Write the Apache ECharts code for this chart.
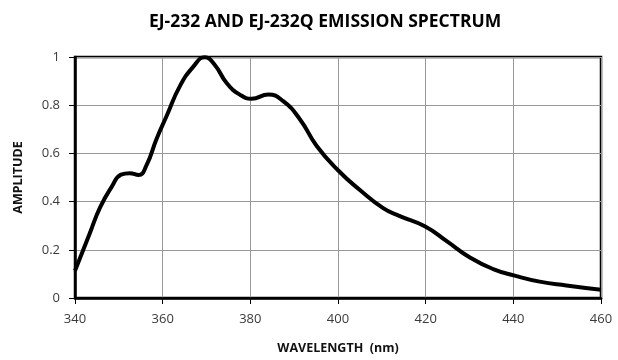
<!DOCTYPE html>
<html>
<head>
<meta charset="utf-8">
<script src="https://cdn.jsdelivr.net/npm/echarts@6/dist/echarts.min.js"></script>
<style>
  html, body { margin: 0; padding: 0; background: #fff; }
  #chart { width: 618px; height: 360px; }
</style>
</head>
<body>
<div id="chart"></div>
<script>
// wavelength (nm) and relative amplitude
const wavelength = [340, 343.4, 345.7, 348.4, 350.5, 352.5, 354.5, 356.3, 358.6, 360.9, 363.9, 367, 369.6,
  371.9, 374.6, 377.6, 380.3, 384.1, 387.5, 391.3, 395.1, 400, 405, 410.3, 414.1,
  419.8, 424.8, 430.1, 435.4, 440.3, 446, 452.1, 460];
const amplitude = [0.113, 0.27, 0.375, 0.462, 0.512, 0.518, 0.51, 0.55, 0.66, 0.755, 0.878, 0.96, 0.999,
  0.967, 0.892, 0.844, 0.827, 0.844, 0.817, 0.742, 0.632, 0.53, 0.448, 0.373, 0.34,
  0.298, 0.236, 0.168, 0.12, 0.093, 0.068, 0.052, 0.034];

const xTicks = [340, 360, 380, 400, 420, 440, 460];
const yTicks = [0, 0.2, 0.4, 0.6, 0.8, 1];

const points = wavelength.map((w, i) => [w, amplitude[i]]);

const chart = echarts.init(document.getElementById('chart'));

const labelFont = { color: '#3a3a3a', fontFamily: 'Open Sans', fontSize: 13 };

chart.setOption({
  animation: false,
  title: {
    text: 'EJ-232 AND EJ-232Q EMISSION SPECTRUM',
    left: 144,
    top: 8,
    textStyle: { fontFamily: 'Open Sans', fontWeight: 'bold', fontSize: 17.5, color: '#000' }
  },
  grid: {
    left: 75, right: 17, top: 57, bottom: 59,
    show: true, borderColor: '#000', borderWidth: 2.5, backgroundColor: 'transparent'
  },
  xAxis: {
    type: 'value',
    min: xTicks[0], max: xTicks[xTicks.length - 1], interval: 20,
    name: 'WAVELENGTH  (nm)',
    nameLocation: 'middle',
    nameGap: 44,
    nameTextStyle: { fontFamily: 'Open Sans', fontWeight: 'bold', fontSize: 12.5, color: '#111' },
    axisLine: { lineStyle: { color: '#000', width: 2.5 } },
    axisTick: { show: true, length: 6, lineStyle: { color: '#000', width: 1 } },
    axisLabel: Object.assign({ margin: 15 }, labelFont),
    splitLine: { lineStyle: { color: '#999', width: 1 } }
  },
  yAxis: {
    type: 'value',
    min: yTicks[0], max: yTicks[yTicks.length - 1], interval: 0.2,
    name: 'AMPLITUDE',
    nameLocation: 'middle',
    nameGap: 50,
    nameTextStyle: { fontFamily: 'Open Sans', fontWeight: 'bold', fontSize: 12.5, color: '#111' },
    axisLine: { show: true, lineStyle: { color: '#000', width: 2.5 } },
    axisTick: { show: true, length: 6, lineStyle: { color: '#000', width: 1 } },
    axisLabel: Object.assign({ margin: 15, formatter: v => String(+v.toFixed(1)) }, labelFont),
    splitLine: { lineStyle: { color: '#999', width: 1 } }
  },
  series: [{
    type: 'line',
    data: points,
    smooth: 0.5,
    showSymbol: false,
    lineStyle: { color: '#000', width: 4 }
  }]
});
</script>
</body>
</html>
